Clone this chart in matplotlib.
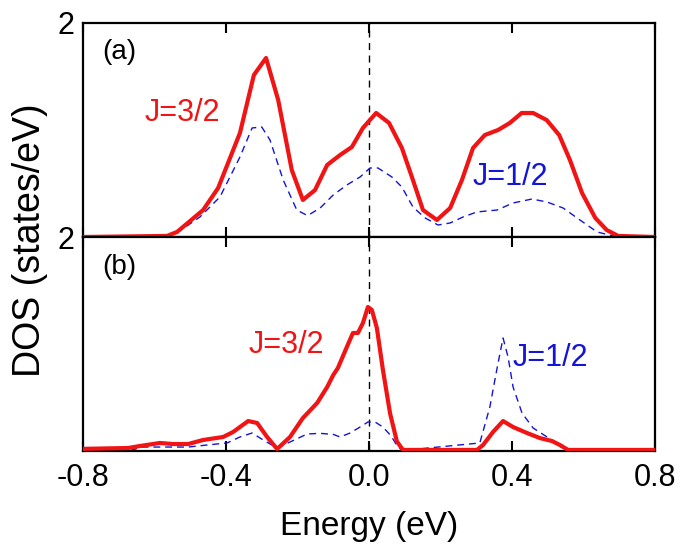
import matplotlib
matplotlib.use("Agg")
from matplotlib import pyplot as plt

plt.rcParams["font.family"] = ["Liberation Sans", "DejaVu Sans"]

# panel (a): energy (eV) and DOS
a_red_x = [-0.8, -0.565, -0.537, -0.464, -0.422, -0.361, -0.322, -0.288, -0.254, -0.216,
           -0.185, -0.151, -0.117, -0.081, -0.048, -0.017, 0.02, 0.056, 0.092, 0.12,
           0.151, 0.19, 0.227, 0.26, 0.291, 0.324, 0.361, 0.394, 0.427, 0.459,
           0.497, 0.532, 0.562, 0.596, 0.633, 0.665, 0.697, 0.8]
a_red_y = [0.0, 0.01, 0.047, 0.252, 0.458, 0.972, 1.514, 1.673, 1.28, 0.626,
           0.346, 0.439, 0.673, 0.766, 0.841, 1.019, 1.159, 1.066, 0.832, 0.561,
           0.252, 0.159, 0.271, 0.533, 0.832, 0.953, 1.0, 1.066, 1.159, 1.159,
           1.093, 0.953, 0.72, 0.411, 0.178, 0.065, 0.01, 0.0]

a_blue_x = [-0.8, -0.56, -0.528, -0.473, -0.417, -0.361, -0.327, -0.3, -0.277, -0.24,
            -0.202, -0.172, -0.137, -0.1, -0.062, -0.025, 0.003, 0.025, 0.064, 0.092,
            0.123, 0.157, 0.193, 0.227, 0.263, 0.302, 0.358, 0.403, 0.456, 0.498,
            0.543, 0.59, 0.638, 0.683, 0.8]
a_blue_y = [0.0, 0.005, 0.06, 0.187, 0.374, 0.748, 1.019, 1.028, 0.907, 0.533,
            0.252, 0.2, 0.27, 0.393, 0.486, 0.561, 0.645, 0.645, 0.561, 0.467,
            0.28, 0.178, 0.112, 0.131, 0.187, 0.234, 0.252, 0.318, 0.355, 0.327,
            0.271, 0.159, 0.047, 0.01, 0.0]

# panel (b)
b_red_x = [-0.8, -0.674, -0.64, -0.585, -0.548, -0.506, -0.464, -0.408, -0.38, -0.338,
           -0.313, -0.285, -0.257, -0.221, -0.185, -0.145, -0.117, -0.1, -0.087, -0.062,
           -0.045, -0.031, -0.017, -0.003, 0.008, 0.022, 0.039, 0.059, 0.078, 0.095,
           0.302, 0.319, 0.347, 0.375, 0.403, 0.442, 0.478, 0.512, 0.534, 0.557, 0.8]
b_red_y = [0.02, 0.028, 0.047, 0.075, 0.065, 0.065, 0.103, 0.131, 0.178, 0.28,
           0.262, 0.131, 0.019, 0.131, 0.308, 0.449, 0.598, 0.71, 0.776, 0.972,
           1.103, 1.103, 1.196, 1.346, 1.318, 1.15, 0.757, 0.35, 0.09, 0.01,
           0.01, 0.056, 0.178, 0.28, 0.224, 0.168, 0.121, 0.093, 0.056, 0.01, 0.01]

b_blue_x = [-0.8, -0.668, -0.632, -0.565, -0.506, -0.453, -0.397, -0.361, -0.327, -0.296,
            -0.257, -0.221, -0.173, -0.137, -0.1, -0.081, -0.053, -0.025, -0.003, 0.017,
            0.039, 0.062, 0.08, 0.095, 0.31, 0.338, 0.361, 0.375, 0.389, 0.403,
            0.428, 0.459, 0.498, 0.526, 0.554, 0.8]
b_blue_y = [0.0, 0.005, 0.037, 0.037, 0.037, 0.056, 0.075, 0.131, 0.168, 0.103,
            0.028, 0.084, 0.159, 0.165, 0.155, 0.131, 0.168, 0.224, 0.271, 0.271,
            0.224, 0.14, 0.04, 0.005, 0.075, 0.411, 0.822, 1.056, 0.878, 0.598,
            0.355, 0.215, 0.131, 0.056, 0.01, 0.0]

x_ticks = [-0.8, -0.4, 0.0, 0.4, 0.8]
x_ticklabels = ["-0.8", "-0.4", "0.0", "0.4", "0.8"]

fig = plt.figure(figsize=(6.85, 5.55), dpi=100)
ax_a = fig.add_axes([83 / 685, 1 - 237 / 555, 572 / 685, 214 / 555])
ax_b = fig.add_axes([83 / 685, 1 - 451 / 555, 572 / 685, 214 / 555])

red = "#f01414"
blue = "#1414d8"

for ax in (ax_a, ax_b):
    ax.set_xlim(-0.8, 0.8)
    ax.set_ylim(0, 2)
    ax.axvline(0, color="black", lw=1.0, ls=(0, (5, 4)), zorder=1)
    ax.set_xticks(x_ticks)
    ax.tick_params(axis="x", direction="in", length=7, width=1.5, top=True,
                   labelsize=22, pad=9)
    ax.tick_params(axis="y", length=0, labelsize=22, pad=6)
    for s in ax.spines.values():
        s.set_linewidth(1.6)

ax_a.plot(a_blue_x, a_blue_y, color=blue, lw=1.0, ls=(0, (5, 3.5)), zorder=2)
ax_a.plot(a_red_x, a_red_y, color=red, lw=3.0, zorder=3)
ax_b.plot(b_blue_x, b_blue_y, color=blue, lw=1.0, ls=(0, (5, 3.5)), zorder=2)
ax_b.plot(b_red_x, b_red_y, color=red, lw=3.0, zorder=3)

ax_a.set_xticklabels([])
ax_a.set_yticks([0, 2])
ax_a.set_yticklabels(["2", "2"])
ax_b.set_yticks([])
ax_b.set_xticklabels(x_ticklabels)

ax_a.text(-0.745, 1.73, "(a)", fontsize=20, va="center", ha="left")
ax_b.text(-0.745, 1.72, "(b)", fontsize=20, va="center", ha="left")
ax_a.text(-0.627, 1.16, "J=3/2", color=red, fontsize=22, va="center", ha="left")
ax_a.text(0.291, 0.56, "J=1/2", color=blue, fontsize=22, va="center", ha="left")
ax_b.text(-0.338, 0.99, "J=3/2", color=red, fontsize=22, va="center", ha="left")
ax_b.text(0.403, 0.87, "J=1/2", color=blue, fontsize=22, va="center", ha="left")

fig.text(369 / 685, 1 - 527 / 555, "Energy (eV)", fontsize=24, ha="center", va="center")
fig.text(30 / 685, 1 - 240 / 555, "DOS (states/eV)", rotation=90, fontsize=27,
         ha="center", va="center")

plt.savefig("out.png", dpi=100)
